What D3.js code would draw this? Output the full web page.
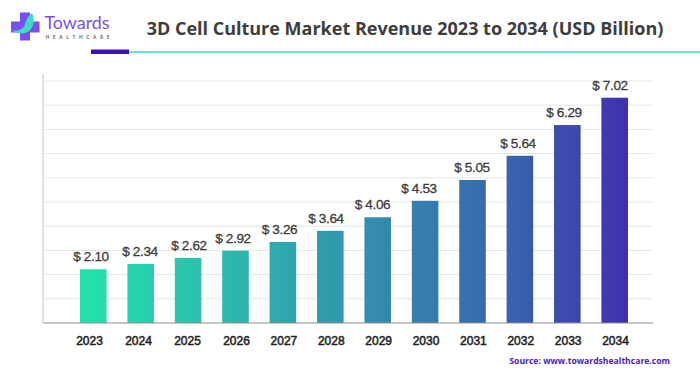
<!DOCTYPE html>
<html>
<head>
<meta charset="utf-8">
<script src="https://cdn.jsdelivr.net/npm/d3@7"></script>
<style>
html, body { margin: 0; padding: 0; background: #fff; }
svg { display: block; }
</style>
</head>
<body>
<div id="chart-area"></div>
<script>
var years = ["2023", "2024", "2025", "2026", "2027", "2028", "2029", "2030", "2031", "2032", "2033", "2034"];
// printed labels, USD billion
var revenue = [2.10, 2.34, 2.62, 2.92, 3.26, 3.64, 4.06, 4.53, 5.05, 5.64, 6.29, 7.02];
// the drawn bars don't follow the printed labels exactly, so heights are read against the gridlines
var barHeights = [2.22, 2.44, 2.69, 2.99, 3.35, 3.81, 4.37, 5.05, 5.91, 6.91, 8.18, 9.31];
var gridTicks = [1, 2, 3, 4, 5, 6, 7, 8, 9, 10];
var colorStops = ["#22e2aa", "#2cc4ad", "#2ea4ad", "#3583ad", "#3a60ae", "#4030ad"];

var margin = { left: 43, right: 47, top: 81, bottom: 52 };
var width = 700 - margin.left - margin.right,
    height = 375 - margin.top - margin.bottom;

var svg = d3.select("#chart-area")
    .append("svg")
        .attr("width", 700)
        .attr("height", 375);

var g = svg.append("g")
    .attr("transform", "translate(" + margin.left + ", " + margin.top + ")");

// X Scale
var x = d3.scaleBand()
    .domain(years)
    .range([37, 585])
    .paddingInner(0.439)
    .paddingOuter(0);

// Y Scale
var y = d3.scaleLinear()
    .domain([0, 10])
    .range([height, 0]);

// The year labels and value labels drift a little off the bar centres in the original
var tickX = d3.scaleLinear()
    .domain([0, 3, 11])
    .range([46, 193, 572]);
var labelX = d3.scaleLinear()
    .domain([0, 2, 3, 7, 8, 11])
    .range([48, 146, 190, 376, 429, 567]);

// One gradient runs across all the bars
var gradient = svg.append("defs").append("linearGradient")
    .attr("id", "bar-gradient")
    .attr("gradientUnits", "userSpaceOnUse")
    .attr("x1", 37).attr("x2", 585)
    .attr("y1", 0).attr("y2", 0);
gradient.selectAll("stop")
    .data(colorStops)
    .enter().append("stop")
        .attr("offset", function(d, i){ return i / (colorStops.length - 1); })
        .attr("stop-color", function(d){ return d; });

// Gridlines
g.append("g")
    .selectAll("line")
    .data(gridTicks)
    .enter().append("line")
        .attr("x1", 0)
        .attr("x2", width)
        .attr("y1", function(d){ return y(d); })
        .attr("y2", function(d){ return y(d); })
        .attr("stroke", "#e6e6e6")
        .attr("stroke-width", 1);

// Left edge
g.append("line")
    .attr("x1", 0)
    .attr("x2", 0)
    .attr("y1", -7)
    .attr("y2", height)
    .attr("stroke", "#e2e2e2")
    .attr("stroke-width", 2);

// Bars
g.selectAll("rect.bar")
    .data(years)
    .enter().append("rect")
        .attr("class", "bar")
        .attr("x", function(d){ return x(d); })
        .attr("y", function(d, i){ return y(barHeights[i]); })
        .attr("width", x.bandwidth())
        .attr("height", function(d, i){ return height - y(barHeights[i]); })
        .attr("fill", "url(#bar-gradient)");

// Bar labels
g.selectAll("text.value")
    .data(years)
    .enter().append("text")
        .attr("class", "value")
        .attr("x", function(d, i){ return labelX(i); })
        .attr("y", function(d, i){ return y(barHeights[i]) - 8; })
        .attr("text-anchor", "middle")
        .attr("font-family", "Liberation Sans")
        .attr("font-size", "13.6px")
        .attr("letter-spacing", "-0.35px")
        .attr("stroke", "#3c3c3c")
        .attr("stroke-width", 0.3)
        .attr("fill", "#3c3c3c")
        .text(function(d, i){ return "$ " + revenue[i].toFixed(2); });

// X Axis
var xAxisCall = d3.axisBottom(tickX)
    .tickValues(d3.range(years.length))
    .tickFormat(function(i){ return years[i]; })
    .tickSize(0)
    .tickPadding(13.5);
var xAxisGroup = g.append("g")
    .attr("class", "x axis")
    .attr("transform", "translate(0," + height + ")")
    .call(xAxisCall);
xAxisGroup.select(".domain").remove();
xAxisGroup.selectAll("text")
    .attr("font-family", "Liberation Sans")
    .attr("font-size", "12px")
    .attr("stroke", "#222")
    .attr("stroke-width", 0.5)
    .attr("fill", "#222");

// Baseline
g.append("line")
    .attr("x1", 0)
    .attr("x2", width)
    .attr("y1", height)
    .attr("y2", height)
    .attr("stroke", "#8f8f8f")
    .attr("stroke-width", 1);

// Title
svg.append("text")
    .attr("x", 405)
    .attr("y", 34.5)
    .attr("text-anchor", "middle")
    .attr("font-family", "Open Sans")
    .attr("font-size", "18px")
    .attr("font-weight", 700)
    .attr("fill", "#3d3d3d")
    .text("3D Cell Culture Market Revenue 2023 to 2034 (USD Billion)");

// Header rule
svg.append("line")
    .attr("x1", 129).attr("x2", 700)
    .attr("y1", 52).attr("y2", 52)
    .attr("stroke", "#3fdcb4").attr("stroke-width", 1.5);
svg.append("rect")
    .attr("x", 91).attr("y", 49.5)
    .attr("width", 38).attr("height", 4.5)
    .attr("fill", "#3e12b0");

// Logo
var logo = svg.append("g").attr("class", "logo");
logo.append("path")
    .attr("d", "M20 12.500h10v9h9.500v11H30v8H20v-8h-9v-11h9z")
    .attr("fill", "#7c4df0");
logo.append("path")
    .attr("d", "M12 30C18 32 24 29 25 24C26 19 29 15 32 13C35 19 34 27 29 31C24 35 16 34 12 30z")
    .attr("fill", "#3fdcc0");
logo.append("text")
    .attr("x", 44.5).attr("y", 29.2)
    .attr("font-family", "Lato")
    .attr("font-size", "18px")
    .attr("textLength", 65)
    .attr("lengthAdjust", "spacingAndGlyphs")
    .attr("fill", "#7c4df0")
    .text("Towards");
logo.append("text")
    .attr("x", 45.5).attr("y", 38.6)
    .attr("font-family", "Open Sans")
    .attr("font-size", "5px")
    .attr("font-weight", 600)
    .attr("textLength", 64)
    .attr("lengthAdjust", "spacing")
    .attr("fill", "#555")
    .text("HEALTHCARE");

// Source
svg.append("text")
    .attr("x", 670)
    .attr("y", 364)
    .attr("text-anchor", "end")
    .attr("font-family", "Open Sans")
    .attr("font-size", "8.6px")
    .attr("font-weight", 700)
    .attr("fill", "#4a22c8")
    .text("Source: www.towardshealthcare.com");
</script>
</body>
</html>
